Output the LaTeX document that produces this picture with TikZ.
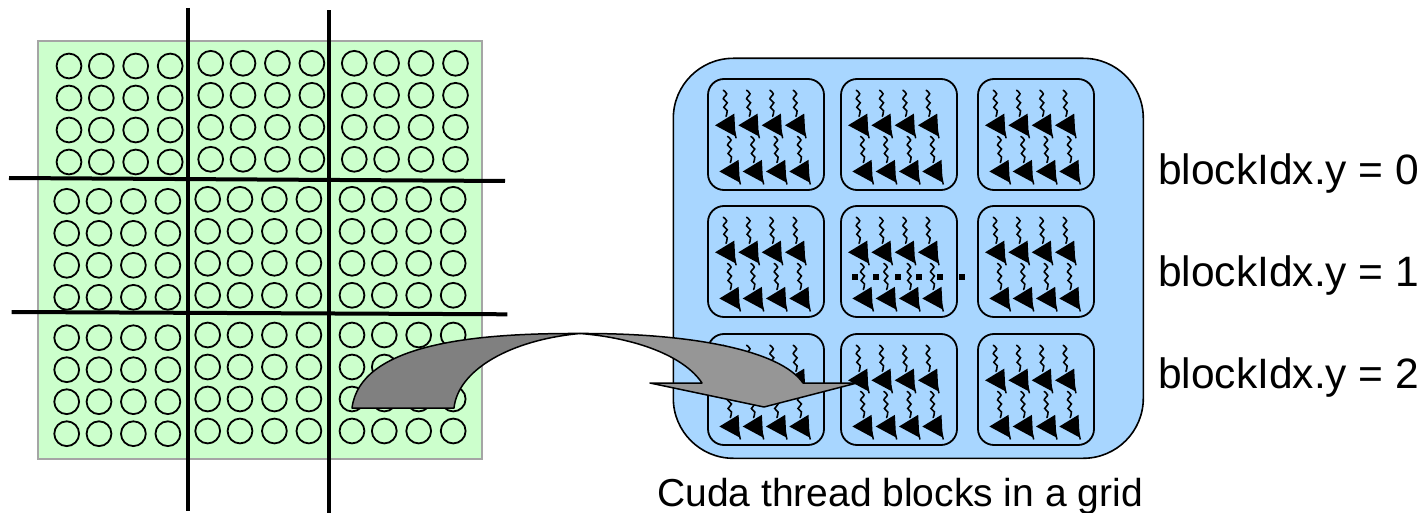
\documentclass[tikz,border=0pt]{standalone}
\usepackage{fontspec}
\setmainfont{Liberation Sans}
\definecolor{datagreen}{RGB}{204,255,204}
\definecolor{datagray}{RGB}{165,165,165}
\definecolor{gridblue}{RGB}{168,214,255}
\definecolor{arrowdark}{RGB}{128,128,128}
\definecolor{arrowlight}{RGB}{150,150,150}
\begin{document}
\begin{tikzpicture}[x=1pt,y=-1pt,
  datarect/.style={draw=datagray, line width=1.8pt, fill=datagreen, inner sep=0pt, outer sep=0pt,
    minimum width=443.4pt, minimum height=418.3pt},
  elem/.style={draw=black, line width=1.8pt},
  cut/.style={draw=black, line width=4pt},
  gridbox/.style={draw=black, line width=1.6pt, fill=gridblue, rounded corners=60pt, inner sep=0pt, outer sep=0pt,
    minimum width=470pt, minimum height=400pt},
  blk/.style={draw=black, line width=1.8pt, rounded corners=16pt, inner sep=0pt, outer sep=0pt,
    minimum width=116pt, minimum height=111pt, anchor=north west},
  lbl/.style={inner sep=0pt, font=\fontsize{42.5}{50}\selectfont, anchor=base west},
  captxt/.style={inner sep=0pt, font=\fontsize{39}{47}\selectfont, anchor=base},
  thr/.pic={
    \draw[line width=1.6pt, line cap=round] plot[smooth, tension=0.6] coordinates
      {(0,0) (3.4,3.5) (0,8.5) (3.9,12.5) (0.5,17) (3.9,20.5) (2.7,26)};
    \fill (-8.2,35) -- (11,23.3) -- (12.2,46) -- cycle;
    \draw[line width=1.5pt] (11,40) -- (12.8,48);
  }]
\useasboundingbox (0,0) rectangle (1425,513);

% data array: 12 x 12 elements
\node[datarect, anchor=north west] (data) at (38.3,40.7) {};
\foreach \ox/\oy in {69/66, 210.7/63.3, 354.3/63.3,
                     66.7/201.3, 207.7/199.3, 352/199.3,
                     66.7/337.7, 207.7/335, 352/335}
  \foreach \dx in {0,32.3,66.7,101.2}
    \foreach \dy in {0,32,64,96}
      \draw[elem] (\ox+\dx,\oy+\dy) circle[radius=12.4pt];

% partition into 3 x 3 tiles
\coordinate (v1a) at (187.7,8);   \coordinate (v1b) at (187.7,511);
\coordinate (v2a) at (329,10.5);  \coordinate (v2b) at (329,513);
\coordinate (h1a) at (9,178);     \coordinate (h1b) at (505,181);
\coordinate (h2a) at (11.7,312);  \coordinate (h2b) at (507.3,314.3);
\draw[cut] (v1a) -- (v1b);
\draw[cut] (v2a) -- (v2b);
\draw[cut] (h1a) -- (h1b);
\draw[cut] (h2a) -- (h2b);

% grid of thread blocks
\node[gridbox, anchor=north west] (grid) at (673.3,58.3) {};
\foreach \bx/\lx in {0/708,1/841,2/978}
  \foreach \by/\ty in {0/79,1/206,2/334} {
    \node[blk] (b\bx\by) at (\lx,\ty) {};
    \foreach \i in {0,...,3} {
      \pic at ({\lx+15.3+23.3*\i},{\ty+11.3}) {thr};
      \pic at ({\lx+19.6+23.3*\i},{\ty+57.5}) {thr};
    }
  }

% dotted row marker
\foreach \sx in {855,876,897.5,918.5,940,961.5}
  \fill (\sx-3,274) rectangle (\sx+3,280);

% curved arrow from tile to block
\coordinate (apex) at (580,333.5);
\fill[arrowdark, draw=black, line width=1.5pt, line join=round]
  (352,408) .. controls (360,345) and (470,333) .. (apex)
  .. controls (510,340) and (458,370) .. (454,408) -- cycle;
\fill[arrowlight, draw=black, line width=1.5pt, line join=round]
  (apex) .. controls (690,333) and (780,350) .. (803,383)
  -- (857,383) -- (764,407) -- (650,383) -- (702,383)
  .. controls (684,356) and (636,338) .. (apex) -- cycle;

% labels
\node[lbl] (y0) at (1158,185) {blockIdx.y = 0};
\node[lbl] (y1) at (1158,286.7) {blockIdx.y = 1};
\node[lbl] (y2) at (1158,388.3) {blockIdx.y = 2};
\node[captxt] (cap) at (900,506.7) {Cuda thread blocks in a grid};
\end{tikzpicture}
\end{document}
